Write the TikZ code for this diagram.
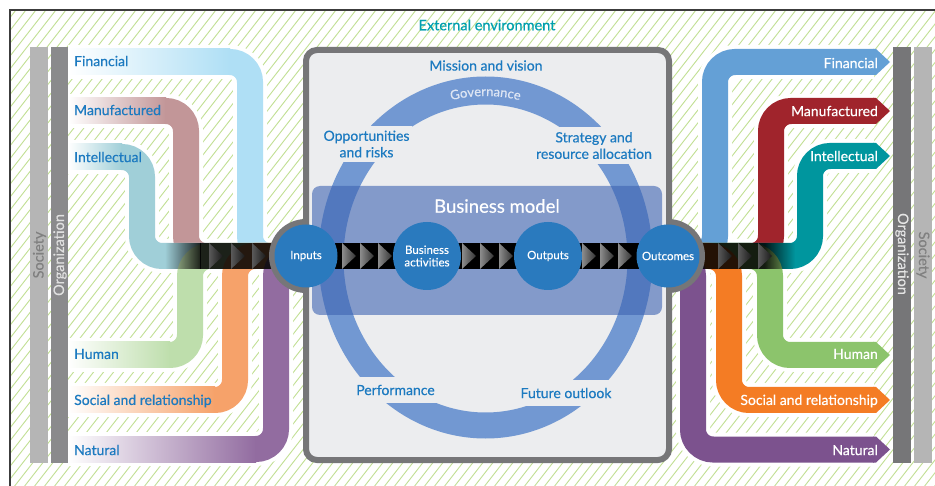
\documentclass[tikz,border=0pt]{standalone}
\usepackage{fontspec}
\setmainfont{Lato}[FakeBold=0.45]
\usetikzlibrary{fadings,decorations.text}
\tikzfading[name=fadein, left color=transparent!100, right color=transparent!0]
\tikzfading[name=fadeout, left color=transparent!0, right color=transparent!100]
\definecolor{hatchc}{RGB}{194,224,148}
\definecolor{framec}{RGB}{60,60,60}
\definecolor{socbar}{RGB}{181,181,181}
\definecolor{orgbarL}{RGB}{138,138,140}
\definecolor{orgbarR}{RGB}{118,118,120}
\definecolor{lfin}{RGB}{175,223,245}
\definecolor{lman}{RGB}{194,150,152}
\definecolor{lint}{RGB}{160,207,216}
\definecolor{lhum}{RGB}{190,222,172}
\definecolor{lsoc}{RGB}{246,162,106}
\definecolor{lnat}{RGB}{146,108,160}
\definecolor{rfin}{RGB}{100,160,214}
\definecolor{rman}{RGB}{160,36,44}
\definecolor{rint}{RGB}{0,150,158}
\definecolor{rhum}{RGB}{140,196,108}
\definecolor{rsoc}{RGB}{244,124,36}
\definecolor{rnat}{RGB}{124,82,142}
\definecolor{lblue}{RGB}{28,122,192}
\definecolor{boxborder}{RGB}{118,118,120}
\definecolor{boxfill}{RGB}{236,237,239}
\definecolor{ringc}{RGB}{114,152,210}
\definecolor{bmc}{RGB}{62,100,178}
\definecolor{circblue}{RGB}{42,122,190}
\definecolor{tealtext}{RGB}{0,160,175}
\definecolor{govtext}{RGB}{222,230,244}
\begin{document}
\begin{tikzpicture}[x=1pt,y=-1pt,
  hatchline/.style={draw=hatchc, line width=0.9pt},
  halo/.style={draw=white, line width=34pt, rounded corners=20pt},
  band/.style={line width=26pt, rounded corners=20pt},
  tri/.style={left color=black!45, right color=black!80},
  tridark/.style={left color=black!65, right color=black!90},
  bcirc/.style={circle, fill=circblue, text=white, minimum size=64pt, inner sep=0pt, align=center, font=\fontsize{11.5}{12.5}\selectfont},
  llabel/.style={anchor=west, text=lblue, font=\fontsize{14}{16}\selectfont, inner sep=0pt},
  rlabel/.style={anchor=east, text=white, font=\fontsize{14}{16}\selectfont, inner sep=0pt},
  boxlabel/.style={text=lblue, align=center, font=\fontsize{14}{16.5}\selectfont, fill=boxfill, inner xsep=3pt, inner ysep=5pt},
  bartext/.style={font=\fontsize{14.5}{16}\selectfont, inner sep=0pt}]
\useasboundingbox (0,0) rectangle (935,486);
\fill[white] (0,0) rectangle (935,486);
% hatching
\begin{scope}
\clip (10,10) rectangle (935,486);
\foreach \i in {-40,...,94} \draw[hatchline] (\i*10,492) -- ++(390,-500);
\end{scope}
\draw[framec, line width=2pt] (935,10) -- (10,10) -- (10,486);
\node[text=tealtext, font=\fontsize{14.5}{16}\selectfont] (ext) at (487,25) {External environment};
% side bars
\fill[socbar] (30,47) rectangle (48,463);
\fill[orgbarL] (51,47) rectangle (68,463);
\fill[orgbarR] (893,47) rectangle (911,463);
\fill[socbar] (914,47) rectangle (932,463);
\node[bartext, text=black!50, rotate=90] (socL) at (39.5,255) {Society};
\node[bartext, text=black!12, rotate=90] (orgL) at (60,255) {Organization};
\node[bartext, text=black!10, rotate=-90] (orgR) at (902,254) {Organization};
\node[bartext, text=black!50, rotate=-90] (socR) at (923,255) {Society};
% halos
\foreach \yh/\xv in {62/250, 111/186, 157/142, 355/190, 400/235, 449/276}
  \draw[halo] (68,\yh) -- (\xv,\yh) -- (\xv,256) -- (320,256);
\foreach \yh/\xv in {62/715, 111/771, 156/810, 355/770, 400/729, 449.5/693}
  \draw[halo] (874,\yh) -- (\xv,\yh) -- (\xv,256) -- (655,256);
% left bands
\foreach \yh/\xv/\c in {62/250/lfin, 111/186/lman, 157/142/lint, 355/190/lhum, 400/235/lsoc, 449/276/lnat}{
  \shade[left color=white, right color=\c] (68,\yh-13) rectangle (\xv-20,\yh+13);
  \draw[band, draw=\c] (\xv-20.5,\yh) -- (\xv,\yh) -- (\xv,256) -- (320,256);
}
% right bands
\foreach \yh/\xv/\c in {62/715/rfin, 111/771/rman, 156/810/rint, 355/770/rhum, 400/729/rsoc, 449.5/693/rnat}{
  \draw[band, draw=\c] (874,\yh) -- (\xv,\yh) -- (\xv,256) -- (655,256);
  \fill[\c] (873,\yh-13) -- (876,\yh-13) -- (890,\yh) -- (876,\yh+13) -- (873,\yh+13) -- cycle;
}
% left strip
\fill[black, opacity=0.85] (200,243) rectangle (306,269);
\fill[black, opacity=0.85, path fading=fadein] (165,243) rectangle (200.5,269);
\foreach \x in {209,231,252} \shade[tridark] (\x,243) -- (\x+14,256) -- (\x,269) -- cycle;
% right strip
\fill[black, opacity=0.85] (668,243) rectangle (765,269);
\fill[black, opacity=0.85, path fading=fadeout] (764.5,243) rectangle (795,269);
\foreach \x in {718,738,758} \shade[tridark] (\x,243) -- (\x+14,256) -- (\x,269) -- cycle;
% central box
\fill[boxborder] (306,256) circle[radius=37];
\fill[boxborder] (668,256) circle[radius=37];
\draw[boxborder, line width=6pt, fill=boxfill, rounded corners=11pt] (306,50) rectangle (669,460);
% governance ring
\fill[ringc, even odd rule] (485.5,257.5) ellipse [x radius=167, y radius=181] (485.5,258.5) ellipse [x radius=142, y radius=154];
\node[boxlabel] (opp) at (366.5,144) {Opportunities\\and risks};
\node[boxlabel] (strat) at (594,145.5) {Strategy and\\resource allocation};
\node[boxlabel, inner ysep=8pt] (perf) at (395.5,390) {Performance};
\node[boxlabel, inner ysep=8pt] (fut) at (566,393) {Future outlook};
\node[text=lblue, font=\fontsize{14}{16}\selectfont] (mission) at (486,65.5) {Mission and vision};
\coordinate (govstart) at ({485.5+150*cos(-125)},{258+162*sin(-125)});
\path[decorate, decoration={text along path, text align=center,
  text={|\fontsize{13}{15}\selectfont\color{govtext}|Governance}}]
  (govstart) arc[start angle=-125, end angle=-55, x radius=150, y radius=162];
% business model
\fill[bmc, opacity=0.6, rounded corners=8pt] (312,186) rectangle (662,315);
\node[text=white, font=\fontsize{18.5}{20}\selectfont] (bm) at (497,206) {Business model};
\fill[black] (306,243) rectangle (668,269);
\foreach \x in {342,360,378,462,480,499,582,600,618} \shade[tri] (\x,243) -- (\x+14,256) -- (\x,269) -- cycle;
\node[bcirc, minimum size=63pt] (inputs) at (306,256) {Inputs};
\node[bcirc, minimum size=68pt] (ba) at (427,256) {Business\\activities};
\node[bcirc, minimum size=68pt] (outputs) at (548,256) {Outputs};
\node[bcirc, minimum size=63pt] (outcomes) at (668,256) {Outcomes};
% left labels
\node[llabel] (lf) at (74,61) {Financial};
\node[llabel] (lm) at (74,110) {Manufactured};
\node[llabel] (li) at (74,157) {Intellectual};
\node[llabel] (lh) at (74,354) {Human};
\node[llabel] (ls) at (74,401) {Social and relationship};
\node[llabel] (ln) at (74,450) {Natural};
% right labels
\node[rlabel] (rf) at (878,63) {Financial};
\node[rlabel] (rm) at (878,111) {Manufactured};
\node[rlabel] (ri) at (878,156) {Intellectual};
\node[rlabel] (rh) at (878,354) {Human};
\node[rlabel] (rs) at (878,401) {Social and relationship};
\node[rlabel] (rn) at (878,450) {Natural};
\end{tikzpicture}
\end{document}
